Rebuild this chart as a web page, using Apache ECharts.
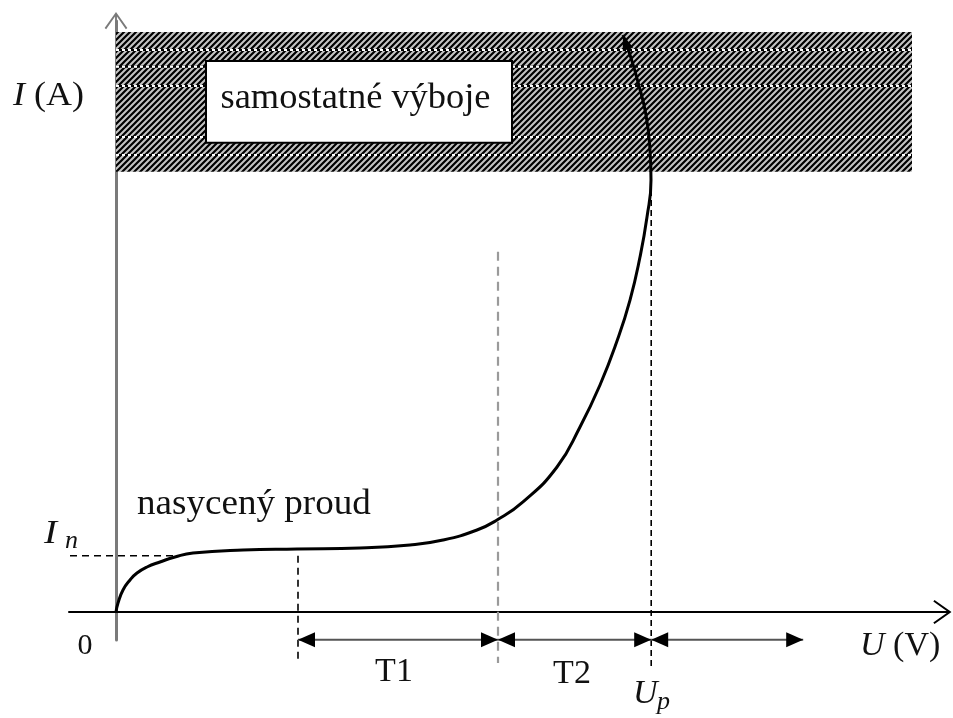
<!DOCTYPE html>
<html>
<head>
<meta charset="utf-8">
<script src="https://cdn.jsdelivr.net/npm/echarts@6/dist/echarts.min.js"></script>
<style>
  html, body { margin: 0; padding: 0; background: #fff; }
  #chart { width: 953px; height: 718px; }
</style>
</head>
<body>
<div id="chart"></div>
<script>
// Volt-ampere characteristic of a gas discharge, arbitrary units.
const voltage = [0, 0.25, 0.875, 1.75, 2.625, 3.875, 5.5, 7.375, 9.625, 15.875, 22.625, 30.5,
                 36.75, 40.875, 45.125, 47.625, 50.875, 55.125, 58.0, 60.5, 62.625, 64.25,
                 65.5, 66.375, 66.875, 66.75, 66.25, 65.25, 64.375, 63.375];
const current = [0, 1.55, 3.79, 5.52, 6.72, 7.76, 8.62, 9.48, 10.17, 10.69, 10.86, 11.03,
                 11.55, 12.41, 14.14, 15.86, 18.97, 25.0, 31.9, 39.14, 46.72, 53.79,
                 61.2, 68.1, 74.48, 79.66, 85.69, 91.38, 95.52, 99.48];

// Saturation current level and region boundaries on the voltage axis
const saturationCurrent = 9.7;
const regionBounds = [22.75, 47.75, 66.9, 85.9];   // start of T1, T1|T2, U_p, end
const regionNames = ['T1', 'T2'];

// Self-sustained discharge zone (voltage range, current range)
const selfDischargeU = [0, 99.5];
const selfDischargeI = [75.9, 100];
const labelBoxU = [11.25, 49.5];
const labelBoxI = [80.9, 95.0];
const bandRowLevels = [96.9, 94.0, 90.7, 81.9, 78.8];

// Guide lines: [u1, i1, u2, i2]
const guideStart = [22.75, saturationCurrent, 22.75, -8.6];
const guideT1T2 = [47.75, 62.1, 47.75, -8.8];
const guideUp = [66.9, 74.5, 66.9, -9.7];
const guideIn = [-5.75, saturationCurrent, 8.0, saturationCurrent];
const spanRowLevel = -4.8;

// Axis extents
const X_MIN = -5.875, X_MAX = 103.25;
const Y_MIN = -4.83, Y_MAX = 101.9;

const SERIF = '"Liberation Serif", "DejaVu Serif", serif';
const INK = '#111';

function hatchPattern() {
  const s = 6;
  const c = document.createElement('canvas');
  c.width = s; c.height = s;
  const g = c.getContext('2d');
  g.fillStyle = '#c4c4c4';
  g.fillRect(0, 0, s, s);
  g.strokeStyle = '#000';
  g.lineWidth = 2.2;
  g.beginPath();
  g.moveTo(-1, s + 1); g.lineTo(s + 1, -1);
  g.moveTo(-2, 2); g.lineTo(2, -2);
  g.moveTo(s - 2, s + 2); g.lineTo(s + 2, s - 2);
  g.stroke();
  return c;
}

const chevron = 'path://M12,0 L24,17 L22.4,18.2 L13,4.8 L13,19 L11,19 L11,4.8 L1.6,18.2 L0,17 Z';

function head(tip, from, len, half) {
  const dx = tip[0] - from[0], dy = tip[1] - from[1];
  const d = Math.hypot(dx, dy) || 1;
  const ux = dx / d, uy = dy / d;
  const bx = tip[0] - ux * len, by = tip[1] - uy * len;
  return {
    type: 'polygon',
    shape: { points: [tip, [bx - uy * half, by + ux * half], [bx + uy * half, by - ux * half]] },
    style: { fill: '#000' }
  };
}

function dashedSeries(seg, color, dash, width) {
  return {
    type: 'line',
    data: [[seg[0], seg[1]], [seg[2], seg[3]]],
    showSymbol: false,
    symbol: 'none',
    clip: false,
    silent: true,
    z: 3,
    lineStyle: { color: color, width: width, type: dash }
  };
}

const chart = echarts.init(document.getElementById('chart'), null, { renderer: 'canvas' });

const spans = [];
for (let k = 0; k < regionBounds.length - 1; k++) spans.push([regionBounds[k], regionBounds[k + 1]]);

const textStyle = (extra) => Object.assign({ fontFamily: SERIF, fontSize: 34, fill: INK }, extra);

chart.setOption({
  animation: false,
  backgroundColor: '#fff',
  grid: { left: 69, right: 11, top: 21, bottom: 78 },
  xAxis: {
    type: 'value', min: X_MIN, max: X_MAX,
    axisLine: { onZero: true, symbol: ['none', chevron], symbolSize: [24, 19],
                lineStyle: { color: '#000', width: 2 } },
    axisTick: { show: false }, axisLabel: { show: false }, splitLine: { show: false }
  },
  yAxis: {
    type: 'value', min: Y_MIN, max: Y_MAX,
    axisLine: { onZero: true, symbol: ['none', chevron], symbolSize: [24, 18],
                lineStyle: { color: '#7a7a7a', width: 3 } },
    axisTick: { show: false }, axisLabel: { show: false }, splitLine: { show: false }
  },
  series: [
    {
      // hatched zone of self-sustained discharges
      type: 'line', data: [], z: 1, silent: true,
      markArea: {
        silent: true,
        itemStyle: { color: { image: hatchPattern(), repeat: 'repeat' } },
        data: [[{ coord: [selfDischargeU[0], selfDischargeI[1]] },
                { coord: [selfDischargeU[1], selfDischargeI[0]] }]]
      }
    },
    {
      // dotted rows across the hatched zone
      type: 'custom', z: 2, silent: true, clip: false,
      data: bandRowLevels.map(v => [v]),
      renderItem: (params, api) => {
        const v = api.value(0);
        const a = api.coord([selfDischargeU[0], v]);
        const b = api.coord([selfDischargeU[1], v]);
        return {
          type: 'group',
          children: [
            { type: 'line', shape: { x1: a[0], y1: a[1], x2: b[0], y2: b[1] },
              style: { stroke: '#000', lineWidth: 2 } },
            { type: 'line', shape: { x1: a[0], y1: a[1], x2: b[0], y2: b[1] },
              style: { stroke: '#fff', lineWidth: 2, lineDash: [3, 3] } }
          ]
        };
      }
    },
    {
      // white label box inside the zone
      type: 'custom', z: 4, silent: true, clip: false,
      data: [[labelBoxU[0], labelBoxI[1], labelBoxU[1], labelBoxI[0]]],
      renderItem: (params, api) => {
        const p1 = api.coord([api.value(0), api.value(1)]);
        const p2 = api.coord([api.value(2), api.value(3)]);
        const cx = (p1[0] + p2[0]) / 2, cy = (p1[1] + p2[1]) / 2;
        return {
          type: 'group',
          children: [
            { type: 'rect', shape: { x: p1[0], y: p1[1], width: p2[0] - p1[0], height: p2[1] - p1[1] },
              style: { fill: '#fff', stroke: '#000', lineWidth: 2 } },
            { type: 'text', x: cx - 3.5, y: cy - 3.5, scaleX: 1.04,
              style: { text: 'samostatné výboje', fontFamily: SERIF, fontSize: 35, fill: INK,
                       align: 'center', verticalAlign: 'middle' } }
          ]
        };
      }
    },
    dashedSeries(guideIn, '#000', [7, 5], 1.6),
    dashedSeries(guideStart, '#000', [7, 5], 1.6),
    dashedSeries(guideT1T2, '#9a9a9a', [9, 6], 2.2),
    dashedSeries(guideUp, '#000', [6, 4], 1.6),
    {
      // characteristic curve
      type: 'line',
      data: voltage.map((u, i) => [u, current[i]]),
      smooth: 0.5,
      showSymbol: false, symbol: 'none', clip: false, z: 5,
      lineStyle: { color: '#000', width: 3 }
    },
    {
      // arrow head at the end of the curve
      type: 'custom', z: 6, clip: false, silent: true,
      data: [[voltage.length - 1]],
      renderItem: (params, api) => {
        const n = voltage.length - 1;
        const tip = api.coord([voltage[n], current[n]]);
        const prev = api.coord([voltage[n - 1], current[n - 1]]);
        return head(tip, prev, 15, 5.5);
      }
    },
    {
      // double-headed span arrows below the voltage axis
      type: 'custom', z: 6, clip: false, silent: true,
      data: spans,
      renderItem: (params, api) => {
        const a = api.coord([api.value(0), spanRowLevel]);
        const b = api.coord([api.value(1), spanRowLevel]);
        return {
          type: 'group',
          children: [
            { type: 'line', shape: { x1: a[0], y1: a[1], x2: b[0], y2: b[1] },
              style: { stroke: '#555', lineWidth: 2 } },
            head(a, b, 17, 7.5),
            head(b, a, 17, 7.5)
          ]
        };
      }
    }
  ],
  graphic: [
    { type: 'text', x: 13, y: 96, scaleX: 1.06, style: textStyle({ text: '{i|I} (A)', verticalAlign: 'middle',
        rich: { i: { fontStyle: 'italic', fontFamily: SERIF, fontSize: 34, fill: INK } } }) },
    { type: 'text', x: 85, y: 646, style: textStyle({ text: '0', fontSize: 30, align: 'center', verticalAlign: 'middle' }) },
    { type: 'text', x: 44, y: 534, scaleX: 1.15, style: textStyle({ text: 'I', fontStyle: 'italic', verticalAlign: 'middle' }) },
    { type: 'text', x: 65, y: 541, style: textStyle({ text: 'n', fontStyle: 'italic', fontSize: 26, verticalAlign: 'middle' }) },
    { type: 'text', x: 137, y: 505, scaleX: 1.06, style: textStyle({ text: 'nasycený proud', fontSize: 35, verticalAlign: 'middle' }) },
    { type: 'text', x: 394, y: 672, style: textStyle({ text: regionNames[0], align: 'center', verticalAlign: 'middle' }) },
    { type: 'text', x: 572, y: 674, style: textStyle({ text: regionNames[1], align: 'center', verticalAlign: 'middle' }) },
    { type: 'text', x: 633, y: 694, style: textStyle({ text: 'U', fontStyle: 'italic', verticalAlign: 'middle' }) },
    { type: 'text', x: 657, y: 702, style: textStyle({ text: 'p', fontStyle: 'italic', fontSize: 26, verticalAlign: 'middle' }) },
    { type: 'text', x: 860, y: 646, style: textStyle({ text: '{i|U} (V)', verticalAlign: 'middle',
        rich: { i: { fontStyle: 'italic', fontFamily: SERIF, fontSize: 34, fill: INK } } }) }
  ]
});
</script>
</body>
</html>
